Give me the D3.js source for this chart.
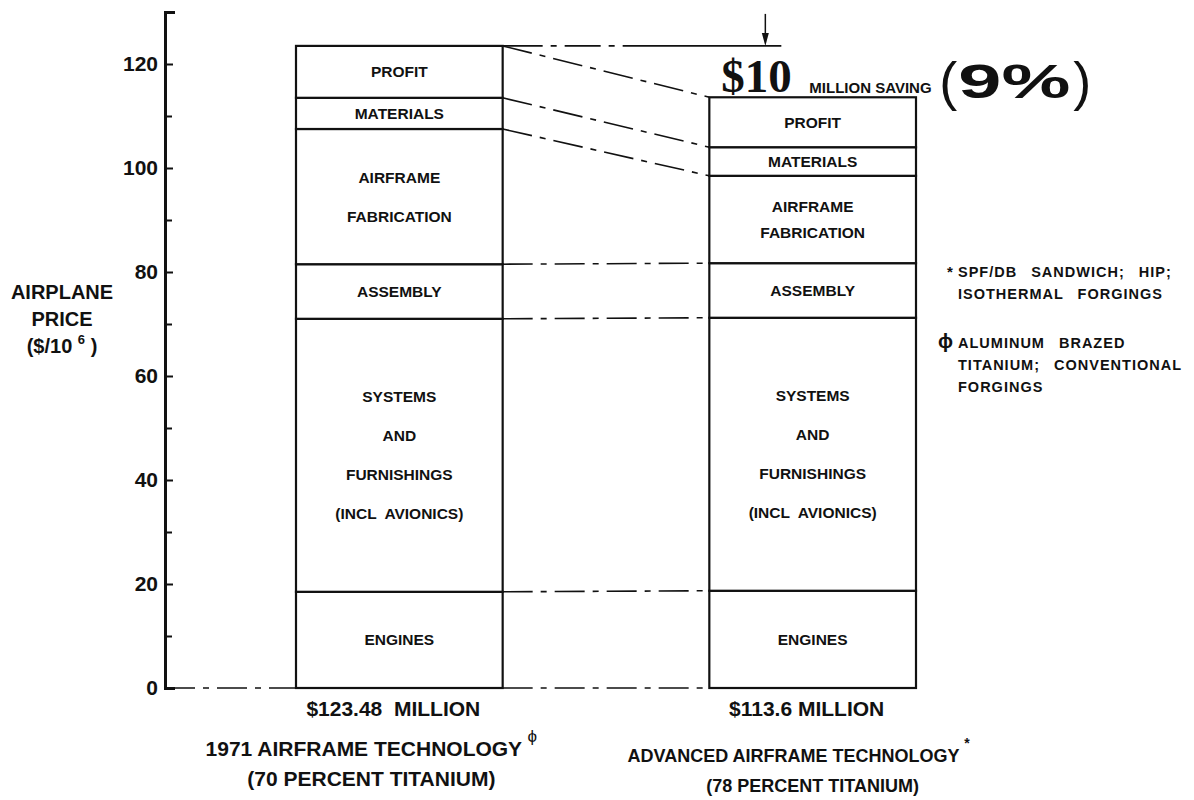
<!DOCTYPE html>
<html>
<head>
<meta charset="utf-8">
<script src="https://cdn.jsdelivr.net/npm/d3@7"></script>
<style>
  body { margin: 0; background: #fff; }
  svg { font-family: "Liberation Sans", Arial, sans-serif; font-weight: bold; fill: #111; }
</style>
</head>
<body>
<script>
// chart data
var bars = ["1971", "ADVANCED"];
var segmentKeys = ["ENGINES", "SYSTEMS", "ASSEMBLY", "AIRFRAME", "MATERIALS", "PROFIT"];
var segmentLabels = [
  ["ENGINES"],
  ["SYSTEMS", "AND", "FURNISHINGS", "(INCL  AVIONICS)"],
  ["ASSEMBLY"],
  ["AIRFRAME", "FABRICATION"],
  ["MATERIALS"],
  ["PROFIT"]
];
var values1971 = [18.5, 52.5, 10.5, 26, 6, 9.98];
var valuesAdvanced = [18.7, 52.5, 10.5, 16.8, 5.5, 9.6];
var totalLabels = ["$123.48  MILLION", "$113.6 MILLION"];
var titleLines = [
  ["1971 AIRFRAME TECHNOLOGY", "(70 PERCENT TITANIUM)"],
  ["ADVANCED AIRFRAME TECHNOLOGY", "(78 PERCENT TITANIUM)"]
];
var titleMarks = ["\u03D5", "*"];
var majorTicks = [0, 20, 40, 60, 80, 100, 120];
var minorTicks = [10, 30, 50, 70, 90, 110];
var axisLabel = ["AIRPLANE", "PRICE"];
var noteLines = [
  ["*", "SPF/DB SANDWICH; HIP;", "ISOTHERMAL FORGINGS"],
  ["\u03D5", "ALUMINUM BRAZED", "TITANIUM; CONVENTIONAL", "FORGINGS"]
];
var savingParts = ["$10", "MILLION SAVING", "9%"];

var width = 1194, height = 800;
var dashDot = "30,8,6,8";

var svg = d3.select("body")
            .append("svg")
            .attr("width", width)
            .attr("height", height);

var y = d3.scaleLinear()
          .domain([0, 130])
          .range([688, 12]);

var x = d3.scaleBand()
          .domain(bars)
          .range([296, 916])
          .paddingInner(0.5)
          .paddingOuter(0);

var bw = x.bandwidth();
var axisX = 165;

// stacked table from the arrays
var rows = bars.map(function(b, i) {
  var r = { bar: b };
  var vals = i === 0 ? values1971 : valuesAdvanced;
  segmentKeys.forEach(function(k, j) { r[k] = vals[j]; });
  return r;
});
var series = d3.stack().keys(segmentKeys)(rows);
var totals = rows.map(function(r) { return d3.sum(segmentKeys, function(k) { return r[k]; }); });

// axis
var axis = svg.append("g")
              .attr("transform", "translate(" + axisX + ",0)")
              .call(d3.axisLeft(y).tickValues(majorTicks).tickSize(-8).tickSizeOuter(-10).tickPadding(7).tickFormat(d3.format("d")));
axis.select(".domain").attr("stroke", "#111").attr("stroke-width", 3);
axis.selectAll(".tick line").attr("stroke", "#111").attr("stroke-width", 2);
axis.selectAll(".tick text")
    .attr("font-size", 21)
    .attr("font-family", "Liberation Sans, Arial, sans-serif")
    .attr("font-weight", "bold")
    .attr("fill", "#111");

var minor = svg.append("g")
               .attr("transform", "translate(" + axisX + ",0)")
               .call(d3.axisLeft(y).tickValues(minorTicks).tickSize(-7).tickFormat(""));
minor.select(".domain").remove();
minor.selectAll(".tick line").attr("stroke", "#111").attr("stroke-width", 2);

// axis title
var at = svg.append("text")
            .attr("text-anchor", "middle")
            .attr("font-size", 20);
axisLabel.forEach(function(t, i) {
  at.append("tspan").attr("x", 62).attr("y", 299 + i * 27).text(t);
});
var unit = svg.append("text")
              .attr("x", 62).attr("y", 353)
              .attr("text-anchor", "middle")
              .attr("font-size", 20);
unit.append("tspan").text("($/10 ");
unit.append("tspan").attr("font-size", 13).attr("dy", -9).text("6");
unit.append("tspan").attr("dy", 9).text(" )");

// connector lines between the bars (boundary values)
function cumul(vals) {
  var c = [0];
  vals.forEach(function(v) { c.push(c[c.length - 1] + v); });
  return c;
}
var cumL = cumul(values1971), cumR = cumul(valuesAdvanced);
var links = cumL.map(function(v, i) { return { a: v, b: cumR[i] }; });

svg.append("g").selectAll("line")
   .data(links)
   .join("line")
   .attr("x1", x(bars[0]) + bw)
   .attr("x2", x(bars[1]))
   .attr("y1", function(d) { return y(d.a); })
   .attr("y2", function(d) { return y(d.b); })
   .attr("stroke", "#111")
   .attr("stroke-width", 1.6)
   .attr("stroke-dasharray", dashDot);

// baseline from the axis to first bar
svg.append("line")
   .attr("x1", axisX).attr("x2", x(bars[0]))
   .attr("y1", y(0)).attr("y2", y(0))
   .attr("stroke", "#111").attr("stroke-width", 1.6)
   .attr("stroke-dasharray", dashDot);

// old price reference line and arrows
var arrowX = x(bars[1]) + 56;
svg.append("line")
   .attr("x1", x(bars[0]) + bw).attr("x2", arrowX + 16)
   .attr("y1", y(totals[0])).attr("y2", y(totals[0]))
   .attr("stroke", "#111").attr("stroke-width", 1.6)
   .attr("stroke-dasharray", "40,8,6,8,36,8,6,8,200");

function arrow(y0, y1) {
  var dir = y1 > y0 ? 1 : -1;
  svg.append("line")
     .attr("x1", arrowX).attr("x2", arrowX)
     .attr("y1", y0).attr("y2", y1 - dir * 10)
     .attr("stroke", "#111").attr("stroke-width", 1.5);
  svg.append("path")
     .attr("d", "M" + (arrowX - 3.5) + "," + (y1 - dir * 13) + "L" + arrowX + "," + y1 + "L" + (arrowX + 3.5) + "," + (y1 - dir * 13) + "Z")
     .attr("fill", "#111");
}
arrow(y(totals[0]) - 32, y(totals[0]));
arrow(y(totals[1]) + 36, y(totals[1]));

// bars
var segG = svg.append("g").selectAll("g")
              .data(series)
              .join("g");

segG.selectAll("rect")
    .data(function(d) { return d.map(function(p, i) { return { p: p, bar: bars[i], key: d.key }; }); })
    .join("rect")
    .attr("x", function(d) { return x(d.bar); })
    .attr("y", function(d) { return y(d.p[1]); })
    .attr("width", bw)
    .attr("height", function(d) { return y(d.p[0]) - y(d.p[1]); })
    .attr("fill", "#fff")
    .attr("stroke", "#111")
    .attr("stroke-width", 2.2);

// segment labels
series.forEach(function(s, k) {
  s.forEach(function(p, i) {
    var lines = segmentLabels[k];
    var top = y(p[1]), bot = y(p[0]);
    var mid = (top + bot) / 2;
    var step = Math.min(39, (bot - top) / (lines.length + 1.3));
    var t = svg.append("text")
               .attr("text-anchor", "middle")
               .attr("font-size", 15.5)
               .style("white-space", "pre");
    lines.forEach(function(l, j) {
      t.append("tspan")
       .attr("x", x(bars[i]) + bw / 2)
       .attr("y", mid + (j - (lines.length - 1) / 2) * step + 5.5)
       .text(l);
    });
  });
});

// totals and titles below the bars
var titleShift = [-28, -14];
bars.forEach(function(b, i) {
  var cx = x(b) + bw / 2;
  svg.append("text")
     .attr("x", cx - 6).attr("y", y(0) + 28)
     .attr("text-anchor", "middle")
     .attr("font-size", 21)
     .style("white-space", "pre")
     .text(totalLabels[i]);

  var t1 = svg.append("text")
              .attr("x", cx + titleShift[i]).attr("y", y(0) + 68 + i * 6)
              .attr("text-anchor", "middle")
              .attr("font-size", i === 0 ? 21 : 18);
  t1.append("tspan").text(titleLines[i][0] + " ");
  t1.append("tspan")
    .attr("dy", -14)
    .attr("font-size", i === 0 ? 17 : 14)
    .attr("font-weight", i === 0 ? "normal" : "bold")
    .text(titleMarks[i]);

  svg.append("text")
     .attr("x", cx + titleShift[i] + (i === 0 ? 0 : 14)).attr("y", y(0) + 98 + i * 6)
     .attr("text-anchor", "middle")
     .attr("font-size", i === 0 ? 21 : 18)
     .text(titleLines[i][1]);
});

// saving annotation
var sy = y(totals[1]) - 5;
svg.append("text")
   .attr("x", arrowX - 44).attr("y", sy)
   .attr("font-family", "Liberation Serif, serif")
   .attr("font-size", 47)
   .text(savingParts[0]);
svg.append("text")
   .attr("x", arrowX + 44).attr("y", sy + 1)
   .attr("font-size", 15)
   .text(savingParts[1]);
svg.append("text")
   .attr("x", arrowX + 174).attr("y", sy + 8)
   .attr("font-weight", "normal")
   .attr("font-size", 54)
   .text("(");
svg.append("text")
   .attr("x", arrowX + 193).attr("y", sy + 6)
   .attr("font-size", 48)
   .attr("textLength", 112)
   .attr("lengthAdjust", "spacingAndGlyphs")
   .text(savingParts[2]);
svg.append("text")
   .attr("x", arrowX + 308).attr("y", sy + 8)
   .attr("font-weight", "normal")
   .attr("font-size", 54)
   .text(")");

// footnotes
var noteY = [277, 348];
noteLines.forEach(function(n, i) {
  svg.append("text")
     .attr("x", i === 0 ? 947 : 938).attr("y", noteY[i])
     .attr("font-size", i === 0 ? 15 : 20)
     .attr("font-weight", "bold")
     .text(n[0]);
  var t = svg.append("text")
             .attr("font-size", 14.5)
             .attr("letter-spacing", 1)
             .attr("word-spacing", 9);
  n.slice(1).forEach(function(l, j) {
    t.append("tspan")
     .attr("x", 958)
     .attr("y", noteY[i] + j * 22)
     .text(l);
  });
});
</script>
</body>
</html>
